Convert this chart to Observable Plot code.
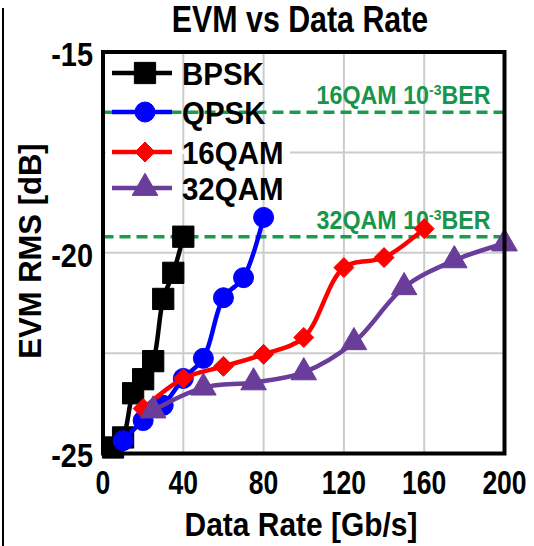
<!DOCTYPE html>
<html><head><meta charset="utf-8">
<script src="https://cdn.jsdelivr.net/npm/d3@7"></script>
<script src="https://cdn.jsdelivr.net/npm/@observablehq/plot@0.6"></script>
<style>
body{margin:0;background:#fff;}
#wrap{position:relative;width:534px;height:546px;overflow:hidden;background:#fff;}
#edge{position:absolute;left:2px;top:8px;width:2px;height:538px;background:#000;}
.narrow{font-family:"Liberation Sans",Arial,sans-serif;font-weight:bold;}
#title{position:absolute;left:0;top:1px;width:600px;text-align:center;font-size:37px;line-height:37px;white-space:nowrap;transform:scaleX(0.82);}
#xlabel{position:absolute;left:0;top:507px;width:602px;text-align:center;font-size:34px;line-height:34px;white-space:nowrap;transform:scaleX(0.88);}
#ylabel{position:absolute;left:30px;top:251px;transform:translate(-50%,-50%) rotate(-90deg);font-family:"Liberation Sans",Arial,sans-serif;font-weight:bold;font-size:31px;line-height:31px;white-space:nowrap;}
#legend{position:absolute;left:0;top:0;}
</style>
</head><body>
<div id="wrap">
  <div id="edge"></div>
  <div id="chart"></div>
  <div id="title" class="narrow">EVM vs Data Rate</div>
  <div id="xlabel" class="narrow">Data Rate [Gb/s]</div>
  <div id="ylabel">EVM RMS [dB]</div>
</div>
<script>
// ---- data ----
const seriesNames = ["BPSK", "QPSK", "16QAM", "32QAM"];
const bpskRate = [5, 10, 15, 20, 25, 30, 35, 40];
const bpskEvm  = [-24.85, -24.6, -23.5, -23.15, -22.7, -21.15, -20.5, -19.6];
const qpskRate = [10, 20, 30, 40, 50, 60, 70, 80];
const qpskEvm  = [-24.68, -24.18, -23.8, -23.13, -22.63, -21.12, -20.62, -19.12];
const qam16Rate = [20, 40, 60, 80, 100, 120, 140, 160];
const qam16Evm  = [-23.88, -23.13, -22.83, -22.53, -22.11, -20.37, -20.12, -19.4];
const qam32Rate = [25, 50, 75, 100, 125, 150, 175, 200];
const qam32Evm  = [-23.93, -23.36, -23.23, -22.98, -22.23, -20.86, -20.19, -19.77];
const thresholdLabels = ["16QAM 10-3BER", "32QAM 10-3BER"];
const thresholdEvm = [-16.5, -19.6];
const xTicks = [0, 40, 80, 120, 160, 200];
const yTicks = [-15, -20, -25];
const xGrid = [40, 80, 120, 160];
const yGrid = [-17.5, -20, -22.5];

// ---- styles ----
const colors = ["#000000", "#0000ff", "#ff0000", "#6a3d9a"];
const symbols = ["square", "circle", "diamond2", "triangle"];
const radii = [12, 10, 9, 9.5];

const rates = [bpskRate, qpskRate, qam16Rate, qam32Rate];
const evms = [bpskEvm, qpskEvm, qam16Evm, qam32Evm];
const series = seriesNames.map((name, i) => rates[i].map((r, j) => ({name, rate: r, evm: evms[i][j]})));
const thresholds = thresholdLabels.map((label, i) => ({label, evm: thresholdEvm[i]}));

const FONT = '"Liberation Sans",Arial,sans-serif';

const seriesMarks = series.flatMap((data, i) => [
  Plot.line(data, {x: "rate", y: "evm", stroke: colors[i], strokeWidth: 4.5, curve: "catmull-rom"}),
  Plot.dot(data, {x: "rate", y: "evm", symbol: () => symbols[i], r: radii[i], fill: colors[i], stroke: colors[i], strokeWidth: 1})
]);

const chart = Plot.plot({
  width: 534, height: 546,
  marginLeft: 102.5, marginRight: 30, marginTop: 51.5, marginBottom: 93,
  style: {fontFamily: FONT, fontWeight: "bold", fontSize: "34px", color: "#000", background: "transparent", overflow: "visible"},
  x: {domain: [0, 200]},
  y: {domain: [-25, -15]},
  symbol: {type: "identity"},
  marks: [
    Plot.ruleX(xGrid, {stroke: "#cccccc", strokeWidth: 2}),
    Plot.ruleY(yGrid, {stroke: "#cccccc", strokeWidth: 2}),
    Plot.ruleY(thresholds, {y: "evm", stroke: "#1a9c4c", strokeWidth: 3.5, strokeDasharray: "11,6"}),
    Plot.text(thresholds, {x: () => 200, y: "evm", text: "label", textAnchor: "end", dx: -14, dy: -16, fill: "#17954a", fontSize: 25, fontFamily: FONT, fontWeight: "bold"}),
    ...seriesMarks,
    Plot.frame({stroke: "#000", strokeWidth: 4}),
    Plot.axisX({ticks: xTicks, tickSize: 0, tickPadding: 16, label: null, tickFormat: d => String(d)}),
    Plot.axisY({ticks: yTicks, tickSize: 0, tickPadding: 10, label: null, dy: 3, tickFormat: d => String(d)})
  ]
});
document.getElementById("chart").appendChild(chart);

function condense(el, k) {
  const w = el.getComputedTextLength();
  if (w > 0) {
    el.setAttribute("textLength", (w * k).toFixed(2));
    el.setAttribute("lengthAdjust", "spacingAndGlyphs");
  }
}

const svg = d3.select(chart);
// superscript in threshold labels
svg.selectAll("text").each(function() {
  const t = this.textContent;
  if (t.includes("10-3BER")) {
    const sel = d3.select(this);
    sel.text(null);
    sel.append("tspan").text(t.replace("-3BER", ""));
    sel.append("tspan").attr("font-size", 15).attr("dy", -9).text("-3");
    sel.append("tspan").attr("dy", 9).text("BER");
    condense(this, 0.93);
  }
});
// condense axis tick labels
svg.selectAll("g[aria-label='x-axis tick label'] text").each(function() { condense(this, 0.78); });
svg.selectAll("g[aria-label='y-axis tick label'] text").each(function() { condense(this, 0.85); });

// legend overlay
const leg = d3.select("#wrap").append("svg").attr("id", "legend").attr("width", 534).attr("height", 546);
const rowY = [73, 112, 152, 188];
seriesNames.forEach((name, i) => {
  const y = rowY[i];
  if (i === 2) leg.append("line").attr("x1", 106).attr("x2", 290).attr("y1", y).attr("y2", y).attr("stroke", "#fff").attr("stroke-width", 4);
  leg.append("line").attr("x1", 112).attr("x2", 172).attr("y1", y).attr("y2", y).attr("stroke", colors[i]).attr("stroke-width", 4.5);
  const symType = {square: d3.symbolSquare, circle: d3.symbolCircle, diamond2: d3.symbolDiamond2, triangle: d3.symbolTriangle}[symbols[i]];
  leg.append("path").attr("d", d3.symbol(symType, Math.PI * radii[i] * radii[i])()).attr("transform", `translate(145,${y})`).attr("fill", colors[i]).attr("stroke", colors[i]);
  const t = leg.append("text").attr("x", 182).attr("y", y + 11.5).attr("font-family", FONT).attr("font-weight", "bold").attr("font-size", 32).attr("fill", "#000").text(name);
  condense(t.node(), 0.92);
});
</script>
</body></html>
